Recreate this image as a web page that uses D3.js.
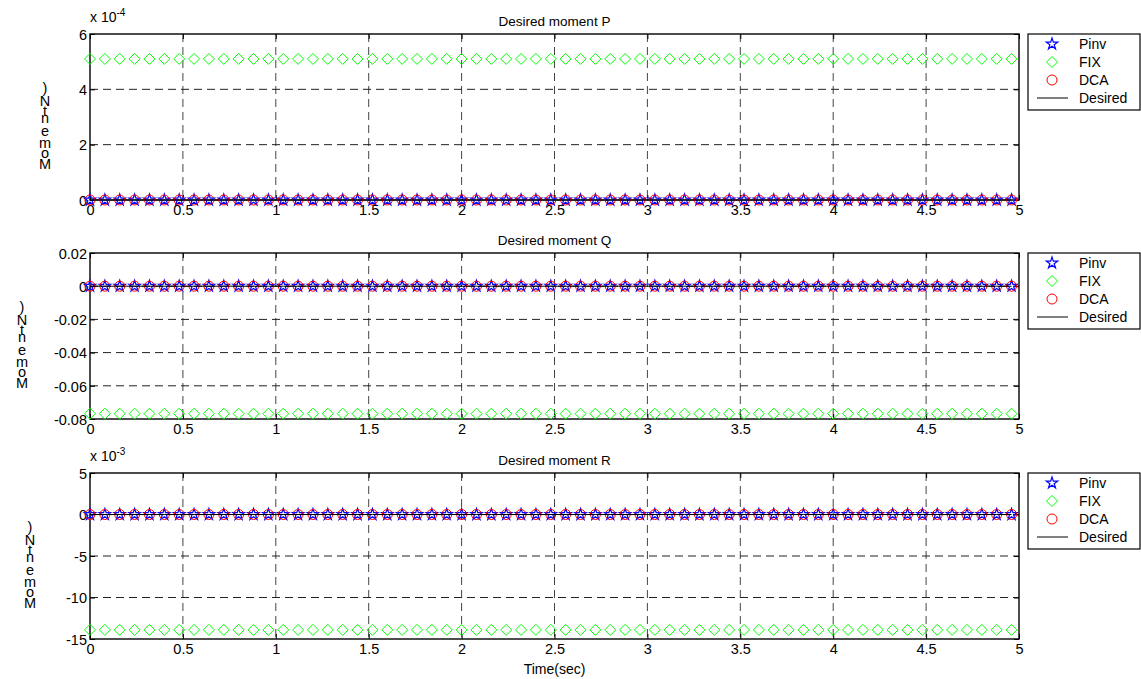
<!DOCTYPE html>
<html>
<head>
<meta charset="utf-8">
<script src="https://cdn.jsdelivr.net/npm/d3@7"></script>
<style>
  body { margin: 0; background: #fff; }
  svg { display: block; font-family: "Liberation Sans", Arial, sans-serif; }
</style>
</head>
<body>
<svg width="1141" height="679"></svg>
<script>
// sample times (sec), one marker every 0.08 s
const time = [0, 0.08, 0.16, 0.24, 0.32, 0.40, 0.48, 0.56, 0.64, 0.72, 0.80, 0.88, 0.96,
  1.04, 1.12, 1.20, 1.28, 1.36, 1.44, 1.52, 1.60, 1.68, 1.76, 1.84, 1.92, 2.00,
  2.08, 2.16, 2.24, 2.32, 2.40, 2.48, 2.56, 2.64, 2.72, 2.80, 2.88, 2.96, 3.04,
  3.12, 3.20, 3.28, 3.36, 3.44, 3.52, 3.60, 3.68, 3.76, 3.84, 3.92, 4.00, 4.08,
  4.16, 4.24, 4.32, 4.40, 4.48, 4.56, 4.64, 4.72, 4.80, 4.88, 4.96];

// panels P, Q, R
const titles = ["Desired moment P", "Desired moment Q", "Desired moment R"];
const yDomains = [[0, 6e-4], [-0.08, 0.02], [-15e-3, 5e-3]];
const yTicks = [[0, 2e-4, 4e-4, 6e-4], [-0.08, -0.06, -0.04, -0.02, 0, 0.02], [-15e-3, -10e-3, -5e-3, 0, 5e-3]];
const yTickLabels = [["0", "2", "4", "6"], ["-0.08", "-0.06", "-0.04", "-0.02", "0", "0.02"], ["-15", "-10", "-5", "0", "5"]];
const exponents = ["-4", null, "-3"];
const xTicks = [0, 0.5, 1, 1.5, 2, 2.5, 3, 3.5, 4, 4.5, 5];

// constant level of each series in each panel (P, Q, R)
const pinvLevel = [0, 0, 0];
const fixLevel = [5.1e-4, -0.0768, -13.9e-3];
const dcaLevel = [0, 0, 0];
const desiredLevel = [0, 0, 0];

const legendNames = ["Pinv", "FIX", "DCA", "Desired"];

const svg = d3.select("svg");
const left = 90, right = 1019, h = 166;
const tops = [34, 253, 473];
const ylabelX = [45, 22, 30];

const x = d3.scaleLinear().domain([0, 5]).range([left, right]);

const star = d3.symbol().type(d3.symbolStar).size(40)();
const diamond = "M0,-5.5L5.5,0L0,5.5L-5.5,0Z";

function drawPanel(i) {
  const top = tops[i];
  const y = d3.scaleLinear().domain(yDomains[i]).range([top + h, top]);
  const g = svg.append("g");

  // grid
  g.selectAll(".vg").data(xTicks.slice(1, -1)).enter().append("line")
    .attr("x1", d => x(d)).attr("x2", d => x(d))
    .attr("y1", top).attr("y2", top + h)
    .attr("stroke", "#444").attr("stroke-dasharray", "8,5");
  g.selectAll(".hg").data(yTicks[i].slice(1, -1)).enter().append("line")
    .attr("x1", left).attr("x2", right)
    .attr("y1", d => y(d)).attr("y2", d => y(d))
    .attr("stroke", "#222").attr("stroke-dasharray", "8,5");

  // axes (inward ticks, labels)
  const xa = g.append("g").attr("transform", "translate(0," + (top + h) + ")")
    .call(d3.axisBottom(x).tickValues(xTicks).tickSize(-5).tickPadding(5).tickFormat(d3.format("")));
  const xt = g.append("g").attr("transform", "translate(0," + top + ")")
    .call(d3.axisTop(x).tickValues(xTicks).tickSize(-5).tickFormat(""));
  const ya = g.append("g").attr("transform", "translate(" + left + ",0)")
    .call(d3.axisLeft(y).tickValues(yTicks[i]).tickSize(-5).tickPadding(3)
      .tickFormat((d, k) => yTickLabels[i][k]));
  const yr = g.append("g").attr("transform", "translate(" + right + ",0)")
    .call(d3.axisRight(y).tickValues(yTicks[i]).tickSize(-5).tickFormat(""));
  [xa, xt, ya, yr].forEach(a => {
    a.selectAll(".domain").remove();
    a.selectAll("line").attr("stroke", "#000");
    a.selectAll("text").attr("font-size", 14.5).attr("fill", "#000")
      .attr("font-family", "Liberation Sans, Arial, sans-serif");
  });
  ya.selectAll("text").attr("dy", "0.36em");
  xa.selectAll("text").attr("dy", "0.72em");

  // box
  g.append("rect").attr("x", left).attr("y", top).attr("width", right - left).attr("height", h)
    .attr("fill", "none").attr("stroke", "#000").attr("stroke-width", 1.4);

  // series
  g.selectAll(".pinv").data(time).enter().append("path")
    .attr("d", star).attr("transform", d => "translate(" + x(d) + "," + y(pinvLevel[i]) + ")")
    .attr("fill", "none").attr("stroke", "#0000ff").attr("stroke-width", 1.2);
  g.selectAll(".fix").data(time).enter().append("path")
    .attr("d", diamond).attr("transform", d => "translate(" + x(d) + "," + y(fixLevel[i]) + ")")
    .attr("fill", "none").attr("stroke", "#00ff00").attr("stroke-width", 1);
  g.selectAll(".dca").data(time).enter().append("circle")
    .attr("cx", d => x(d)).attr("cy", y(dcaLevel[i])).attr("r", 5)
    .attr("fill", "none").attr("stroke", "#ff0000").attr("stroke-width", 1);
  g.append("path").datum(time)
    .attr("d", d3.line().x(d => x(d)).y(() => y(desiredLevel[i])))
    .attr("fill", "none").attr("stroke", "#000").attr("stroke-width", 1);

  // title
  g.append("text").attr("x", (left + right) / 2).attr("y", top - 8)
    .attr("text-anchor", "middle").attr("font-size", 13.5).text(titles[i]);

  // exponent
  if (exponents[i]) {
    const ex = g.append("text").attr("x", left).attr("y", top - 12).attr("font-size", 14);
    ex.append("tspan").text("x 10");
    ex.append("tspan").attr("dy", -6).attr("font-size", 10).text(exponents[i]);
  }

  // y label: characters stacked upright, as the reference draws them
  const chars = [[")", -29], ["N", -16], ["t", -6], ["n", 1], ["e", 14], ["m", 26], ["o", 36], ["M", 47]];
  const cy = top + h / 2;
  const yl = g.append("text").attr("text-anchor", "middle").attr("font-size", 14.5).attr("fill", "#000");
  chars.forEach(c => {
    yl.append("tspan").attr("x", ylabelX[i]).attr("y", cy + c[1]).attr("dy", "0.36em").text(c[0]);
  });

  // legend
  const lx = 1028, ly = top;
  const lg = g.append("g");
  lg.append("rect").attr("x", lx).attr("y", ly).attr("width", 112).attr("height", 76)
    .attr("fill", "#fff").attr("stroke", "#000").attr("stroke-width", 1.2);
  legendNames.forEach((name, k) => {
    const yy = ly + 10 + k * 18;
    const mx = 1052;
    if (k === 0) lg.append("path").attr("d", star).attr("transform", "translate(" + mx + "," + yy + ")")
      .attr("fill", "none").attr("stroke", "#0000ff").attr("stroke-width", 1.2);
    if (k === 1) lg.append("path").attr("d", diamond).attr("transform", "translate(" + mx + "," + yy + ")")
      .attr("fill", "none").attr("stroke", "#00ff00");
    if (k === 2) lg.append("circle").attr("cx", mx).attr("cy", yy).attr("r", 5)
      .attr("fill", "none").attr("stroke", "#ff0000");
    if (k === 3) lg.append("line").attr("x1", 1037).attr("x2", 1068).attr("y1", yy).attr("y2", yy)
      .attr("stroke", "#000");
    lg.append("text").attr("x", 1079).attr("y", yy).attr("dy", "0.36em")
      .attr("font-size", 14).text(name);
  });
}

[0, 1, 2].forEach(drawPanel);

svg.append("text").attr("x", (left + right) / 2).attr("y", 674)
  .attr("text-anchor", "middle").attr("font-size", 14).text("Time(sec)");
</script>
</body>
</html>
